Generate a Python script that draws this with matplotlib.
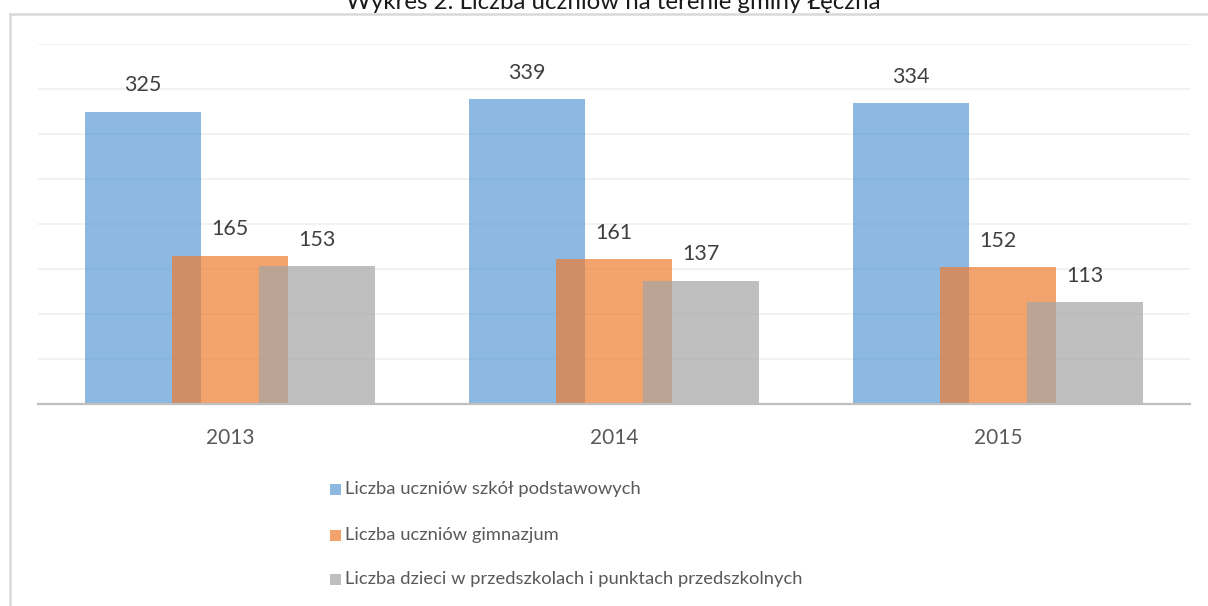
import matplotlib
matplotlib.use("Agg")
import matplotlib.pyplot as plt
from matplotlib.patches import Rectangle
from matplotlib.lines import Line2D
import numpy as np

years = ["2013", "2014", "2015"]
series_names = [
    "Liczba uczniów szkół podstawowych",
    "Liczba uczniów gimnazjum",
    "Liczba dzieci w przedszkolach i punktach przedszkolnych",
]
podstawowe = [325, 339, 334]
gimnazjum = [165, 161, 152]
przedszkola = [153, 137, 113]
title = "Wykres 2. Liczba uczniów na terenie gminy Łęczna"

colors = ["#5B9BD5", "#ED7D31", "#A5A5A5"]
FONT = ["Lato", "DejaVu Sans"]
plt.rcParams["font.family"] = FONT

W, H = 1208, 606
fig = plt.figure(figsize=(W / 100, H / 100), dpi=100)
fig.patch.set_facecolor("white")

ax = fig.add_axes([38 / W, 1 - 404 / H, 1152 / W, 360 / H])
ax.set_xlim(-0.5, 2.5)
ax.set_ylim(0, 400)

x = np.arange(len(years))
bw = 0.302
off = 0.2266
for i, (vals, c) in enumerate(zip([podstawowe, gimnazjum, przedszkola], colors)):
    pos = x + (i - 1) * off
    bars = ax.bar(pos, vals, width=bw, color=c, alpha=0.7, linewidth=0, zorder=2 + i)
    for b, v in zip(bars, vals):
        ax.annotate(str(v), (b.get_x() + b.get_width() / 2, v), xytext=(0, 19),
                    textcoords="offset points", ha="center", va="center",
                    fontsize=15.5, color="#404040")

ax.set_yticks(np.arange(50, 401, 50))
ax.yaxis.grid(True, color="#F0F0F0", linewidth=1.2, zorder=0)
ax.set_axisbelow(True)
ax.tick_params(axis="y", left=False, labelleft=False)
ax.set_xticks(x)
ax.set_xticklabels(years, fontsize=15, color="#595959")
ax.tick_params(axis="x", length=0, pad=17)
for s in ["top", "right", "left"]:
    ax.spines[s].set_visible(False)
ax.spines["bottom"].set_color("#BFBFBF")
ax.spines["bottom"].set_linewidth(1.6)
ax.spines["bottom"].set_zorder(10)

# chart frame
fig.add_artist(Line2D([10 / W, 10 / W], [0, 1 - 14 / H], color="#D9D9D9", linewidth=1.8,
                      transform=fig.transFigure))
fig.add_artist(Line2D([10 / W, 1], [1 - 14 / H, 1 - 14 / H], color="#D9D9D9", linewidth=1.8,
                      transform=fig.transFigure))

# title (cut off at top, as in the reference)
fig.text(613 / W, 1 - 9 / H, title, ha="center", va="baseline", fontsize=17.3, color="#1A1A1A")

# legend
leg_y = [489, 535, 579]
for name, c, yy in zip(series_names, colors, leg_y):
    fig.add_artist(Rectangle((330 / W, 1 - (yy + 6) / H), 11 / W, 11 / H, facecolor=c, alpha=0.7,
                             edgecolor="none", transform=fig.transFigure))
    fig.text(345 / W, 1 - yy / H, name, ha="left", va="center", fontsize=13.2, color="#595959")

fig.savefig("out.png", dpi=100)
